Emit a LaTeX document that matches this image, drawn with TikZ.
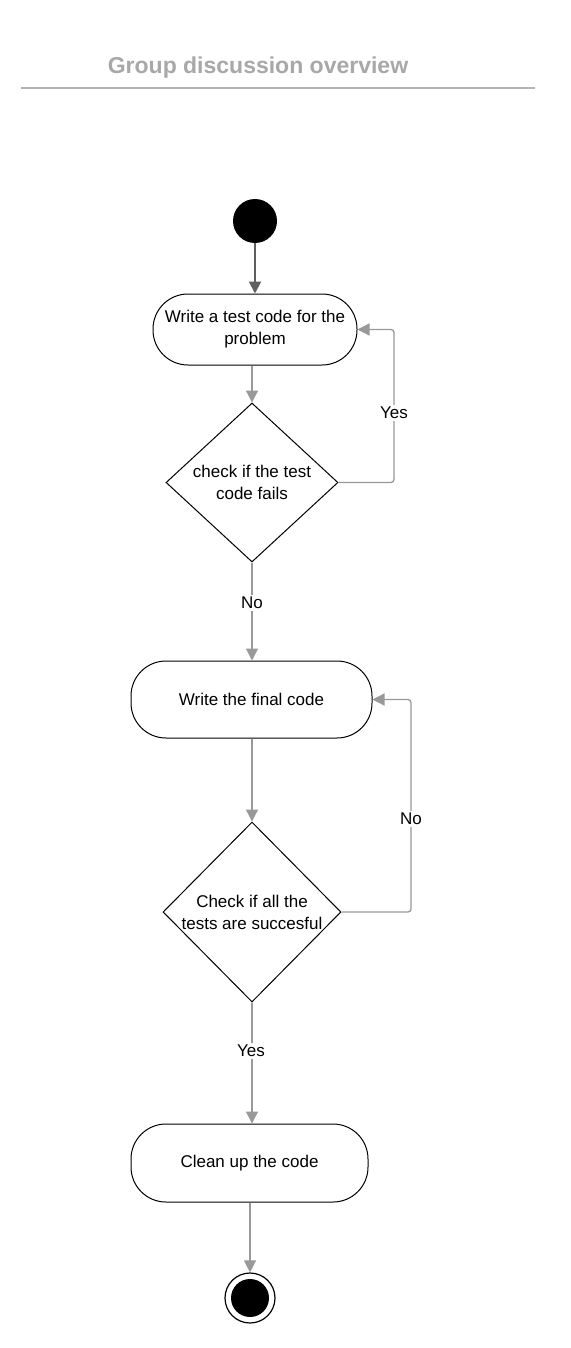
\documentclass[tikz,border=0pt]{standalone}
\usepackage{fontspec}
\setmainfont{Liberation Sans}
\usetikzlibrary{arrows.meta,shapes.geometric}
\definecolor{conn}{HTML}{999999}
\definecolor{darkconn}{HTML}{5F5F5F}
\definecolor{titlegray}{HTML}{A8A8A8}
\definecolor{rulegray}{HTML}{B3B3B3}
\tikzset{
  stadium/.style={draw=black, line width=1pt, fill=white, rectangle, rounded corners=35pt,
    inner sep=2pt, align=center, font=\fontsize{17}{22}\selectfont},
  decision/.style={draw=black, line width=1pt, fill=white, diamond, aspect=1.07, inner sep=0pt,
    align=center, font=\fontsize{17}{22}\selectfont},
  connector/.style={draw=conn, line width=1.3pt, -{Triangle[length=12pt,width=12pt]}, rounded corners=3pt},
  lbl/.style={fill=white, inner sep=2pt, font=\fontsize{17}{20}\selectfont},
}
\begin{document}
\begin{tikzpicture}[x=1pt, y=-1pt]
\useasboundingbox[fill=white] (0,0) rectangle (570,1348);
% title
\node[text=titlegray, font=\fontsize{23}{27}\bfseries] (title) at (258,68) {Group discussion overview};
\draw[rulegray, line width=2pt] (21,88) coordinate (rl) -- (535,88) coordinate (rr);
% nodes
\node[circle, fill=black, minimum size=44pt, inner sep=0pt] (start) at (255,221) {};
\node[stadium, minimum width=204pt, minimum height=71pt] (b1) at (255,329.5) {Write a test code for the\\problem};
\node[decision, minimum width=172pt, minimum height=159pt] (d1) at (252,482.5) {check if the test\\code fails};
\node[stadium, minimum width=241pt, minimum height=77pt] (b2) at (251.5,699.5) {Write the final code};
\node[decision, minimum width=178pt, minimum height=180pt] (d2) at (252,912) {Check if all the\\tests are succesful};
\node[stadium, minimum width=237pt, minimum height=78pt] (b3) at (249.5,1163) {Clean up the code};
\node[circle, draw=black, line width=1.2pt, fill=white, minimum size=50pt, inner sep=0pt,
  path picture={\fill[black] (path picture bounding box.center) circle (19pt);}] (end) at (250,1298) {};
\coordinate (yx) at (394,0);
\coordinate (nx) at (411,0);
% connectors
\draw[draw=darkconn, line width=2pt, -{Triangle[length=12pt,width=12pt]}] (start) -- (b1);
\draw[connector] (d1.north |- b1.south) -- (d1.north);
\draw[connector] (d1.east) -- (d1.east -| yx) |- (b1.east);
\draw[connector] (d1.south) -- (d1.south |- b2.north);
\draw[connector] (d2.north |- b2.south) -- (d2.north);
\draw[connector] (d2.east) -- (d2.east -| nx) |- (b2.east);
\draw[connector] (d2.south) -- (d2.south |- b3.north);
\draw[connector] (end.north |- b3.south) -- (end.north);
% labels
\node[lbl] (lyes1) at (394,413) {Yes};
\node[lbl] (lno1) at (252,603) {No};
\node[lbl] (lno2) at (411,819) {No};
\node[lbl] (lyes2) at (251,1051) {Yes};
\end{tikzpicture}
\end{document}
